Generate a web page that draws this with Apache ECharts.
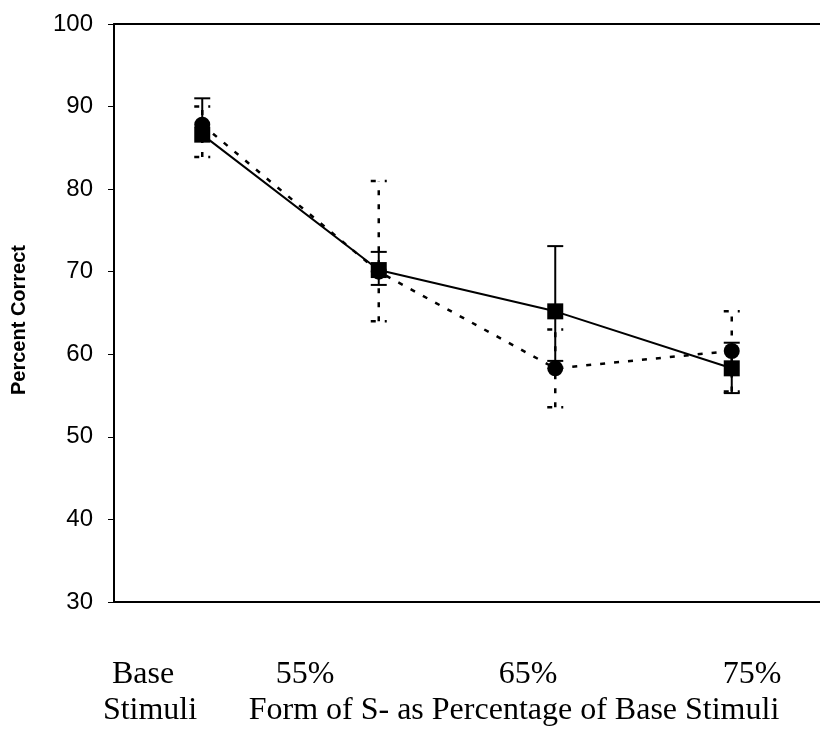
<!DOCTYPE html>
<html>
<head>
<meta charset="utf-8">
<script src="https://cdn.jsdelivr.net/npm/echarts@6/dist/echarts.min.js"></script>
<style>html,body{margin:0;padding:0;background:#fff;}#c{width:820px;height:730px;}</style>
</head>
<body>
<div id="c"></div>
<script>
const categories = ['Base Stimuli', '55%', '65%', '75%'];
const solidMean = [86.6, 70.2, 65.2, 58.3];
const solidLow = [86.6, 68.4, 59.2, 55.3];
const solidHigh = [91.0, 72.4, 73.1, 61.4];
const dottedMean = [87.8, 70.0, 58.3, 60.4];
const dottedLow = [83.9, 64.0, 53.6, 55.5];
const dottedHigh = [90.0, 81.0, 63.0, 65.2];
const tickLabelsTop = ['Base', '55%', '65%', '75%'];
const tickLabelsBottom = ['Stimuli', 'Form of S- as Percentage of Base Stimuli'];
const yTitle = 'Percent Correct';
const yMin = 30, yMax = 100, yStep = 10;

const chart = echarts.init(document.getElementById('c'), null, {renderer: 'canvas'});

function errData(mean, low, high) {
  return categories.map((c, i) => [i, low[i], high[i], mean[i]]);
}
function errRender(dashed) {
  return function (params, api) {
    const x = api.value(0), lo = api.value(1), hi = api.value(2), m = api.value(3);
    const pLo = api.coord([x, lo]), pHi = api.coord([x, hi]);
    const half = 8;
    const style = {stroke: '#000', lineWidth: dashed ? 2.5 : 2, lineDash: dashed ? [5, 9] : null, fill: null};
    const ch = [{type: 'line', shape: {x1: pLo[0], y1: pLo[1], x2: pHi[0], y2: pHi[1]}, style: style}];
    if (hi > m) ch.push({type: 'line', shape: {x1: pHi[0] - half, y1: pHi[1], x2: pHi[0] + half, y2: pHi[1]}, style: style});
    if (lo < m) ch.push({type: 'line', shape: {x1: pLo[0] - half, y1: pLo[1], x2: pLo[0] + half, y2: pLo[1]}, style: style});
    return {type: 'group', children: ch};
  };
}

const serif = '"Liberation Serif", "Times New Roman", serif';
const labelXs = [143, 305, 528, 752];
const graphics = [];
tickLabelsTop.forEach((t, i) => graphics.push({
  type: 'text', x: labelXs[i], y: 675,
  style: {text: t, font: '32px ' + serif, fill: '#000', align: 'center', verticalAlign: 'middle'}
}));
graphics.push({type: 'text', x: 150, y: 711,
  style: {text: tickLabelsBottom[0], font: '32px ' + serif, fill: '#000', align: 'center', verticalAlign: 'middle'}});
graphics.push({type: 'text', x: 514, y: 711,
  style: {text: tickLabelsBottom[1], font: '32px ' + serif, fill: '#000', align: 'center', verticalAlign: 'middle'}});
graphics.push({type: 'text', x: 19, y: 320, rotation: Math.PI / 2,
  style: {text: yTitle, font: 'bold 20px "Liberation Sans", Arial, sans-serif', fill: '#000', align: 'center', verticalAlign: 'middle'}});

chart.setOption({
  animation: false,
  backgroundColor: '#fff',
  grid: {left: 114, top: 24, right: -7, bottom: 128},
  xAxis: [{
    type: 'category', data: categories, boundaryGap: true, position: 'bottom',
    axisLine: {show: true, lineStyle: {color: '#000', width: 2}},
    axisTick: {show: false}, axisLabel: {show: false}, splitLine: {show: false}
  }, {
    type: 'category', data: categories, boundaryGap: true, position: 'top',
    axisLine: {show: true, lineStyle: {color: '#000', width: 2}},
    axisTick: {show: false}, axisLabel: {show: false}, splitLine: {show: false}
  }],
  yAxis: {
    type: 'value', min: yMin, max: yMax, interval: yStep,
    axisLine: {show: true, lineStyle: {color: '#000', width: 2}},
    axisTick: {show: true, length: 6, lineStyle: {color: '#000', width: 1}},
    axisLabel: {margin: 21, color: '#000', fontSize: 24, fontFamily: '"Liberation Sans", Arial, sans-serif'},
    splitLine: {show: false}
  },
  graphic: graphics,
  series: [
    {type: 'custom', name: 'dottedErr', renderItem: errRender(true), data: errData(dottedMean, dottedLow, dottedHigh), z: 2, silent: true},
    {type: 'line', name: 'dotted', data: dottedMean, symbol: 'circle', symbolSize: 16, z: 3,
      lineStyle: {color: '#000', width: 2.5, type: [5, 9]}, itemStyle: {color: '#000'}},
    {type: 'custom', name: 'solidErr', renderItem: errRender(false), data: errData(solidMean, solidLow, solidHigh), z: 4, silent: true},
    {type: 'line', name: 'solid', data: solidMean, symbol: 'rect', symbolSize: 16, z: 5,
      lineStyle: {color: '#000', width: 2}, itemStyle: {color: '#000'}}
  ]
});
</script>
</body>
</html>
